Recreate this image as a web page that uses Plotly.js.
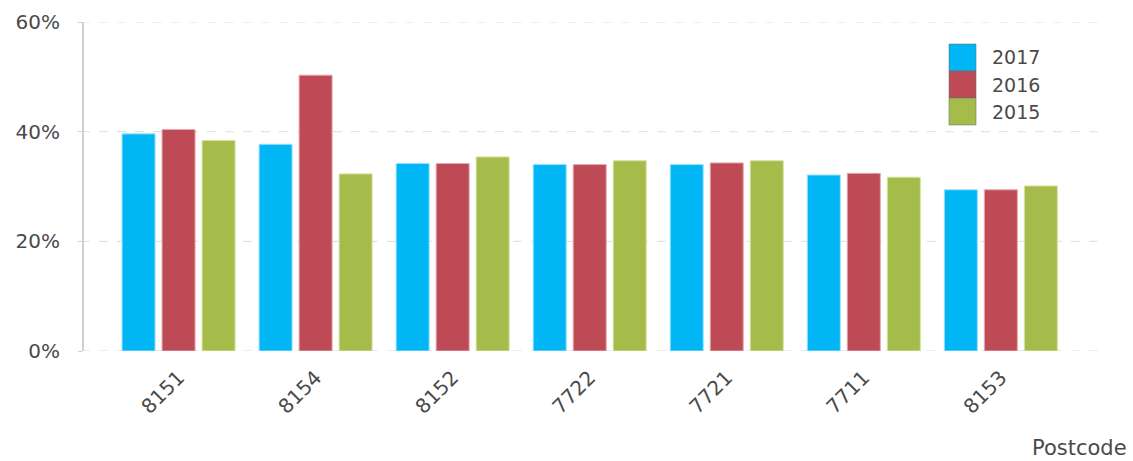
<!DOCTYPE html>
<html>
<head>
<meta charset="utf-8">
<script src="https://cdn.plot.ly/plotly-3.0.1.min.js"></script>
<style>html,body{margin:0;padding:0;background:#fff;}#chart{width:1133px;height:461px;}</style>
</head>
<body>
<div id="chart"></div>
<script>
var categories = ['8151', '8154', '8152', '7722', '7721', '7711', '8153'];
var seriesNames = ['2017', '2016', '2015'];
var values2017 = [39.6, 37.7, 34.2, 34.0, 34.0, 32.1, 29.4];
var values2016 = [40.4, 50.3, 34.2, 34.0, 34.3, 32.4, 29.4];
var values2015 = [38.4, 32.3, 35.4, 34.7, 34.7, 31.7, 30.1];
var yTicks = [0, 20, 40, 60];

var colors = ['#00B6F4', '#BD4A54', '#A6BC4A'];
var edgeColors = ['#9BE2FF', '#E8A8AE', '#D6E3A6'];
var allValues = [values2017, values2016, values2015];

var FONT = 'DejaVu Sans';
var TXT = '#4a4a4a';

var traces = seriesNames.map(function (name, i) {
  return {
    type: 'bar',
    name: name,
    x: categories,
    y: allValues[i],
    marker: { color: colors[i], line: { color: edgeColors[i], width: 1 } },
    hoverinfo: 'x+y+name'
  };
});

var shapes = [];
var annotations = [];

// dashed gridlines (incl. 0% and 60%), drawn on the y scale, under the bars
yTicks.forEach(function (v) {
  shapes.push({
    type: 'line', xref: 'paper', yref: 'y', layer: 'below',
    x0: -0.003, x1: 1, y0: v, y1: v,
    line: { color: v === 0 ? '#ddd3e0' : '#dedede', width: 1, dash: 'dash' }
  });
});

// custom legend (large squares as in the reference)
var lx0 = (949 - 84) / 1021, lx1 = (976 - 84) / 1021;
var rowTop = 44, rowH = 27;
seriesNames.forEach(function (name, i) {
  var t = rowTop + i * rowH, b = t + rowH;
  shapes.push({
    type: 'rect', xref: 'paper', yref: 'paper',
    x0: lx0, x1: lx1,
    y0: (351 - b) / 329, y1: (351 - t) / 329,
    fillcolor: colors[i],
    line: { color: 'rgba(110,110,110,0.55)', width: 1 }
  });
  annotations.push({
    xref: 'paper', yref: 'paper',
    x: (990 - 84) / 1021, xanchor: 'left',
    y: (351 - (t + rowH / 2)) / 329, yanchor: 'middle',
    text: name, showarrow: false,
    font: { family: FONT, size: 19, color: TXT }
  });
});
annotations.push({
  xref: 'paper', yref: 'paper',
  x: (1129 - 84) / 1021, xanchor: 'right',
  y: (351 - 448) / 329, yanchor: 'middle',
  text: 'Postcode', showarrow: false,
  font: { family: FONT, size: 21, color: TXT }
});

var layout = {
  width: 1133, height: 461,
  margin: { l: 84, r: 28, t: 22, b: 110 },
  paper_bgcolor: '#fff', plot_bgcolor: '#fff',
  showlegend: false,
  barmode: 'group',
  bargap: 0.124,
  bargroupgap: 0.175,
  font: { family: FONT, color: TXT },
  xaxis: {
    type: 'category',
    range: [-0.69, 6.76],
    showline: false, ticks: '', showgrid: false, zeroline: false,
    tickangle: -45,
    ticklabelstandoff: 10,
    tickfont: { family: FONT, size: 20, color: TXT }
  },
  yaxis: {
    range: [0, 60],
    tickvals: yTicks,
    ticktext: yTicks.map(function (v) { return v + '%'; }),
    showline: true, linecolor: '#cfcfcf', linewidth: 2,
    ticks: 'outside', ticklen: 4, tickcolor: '#cfcfcf', tickwidth: 1,
    showgrid: false,
    zeroline: false,
    ticklabelstandoff: 14,
    tickfont: { family: FONT, size: 20, color: TXT }
  },
  shapes: shapes,
  annotations: annotations
};

Plotly.newPlot('chart', traces, layout, { displayModeBar: false, staticPlot: true });
</script>
</body>
</html>
